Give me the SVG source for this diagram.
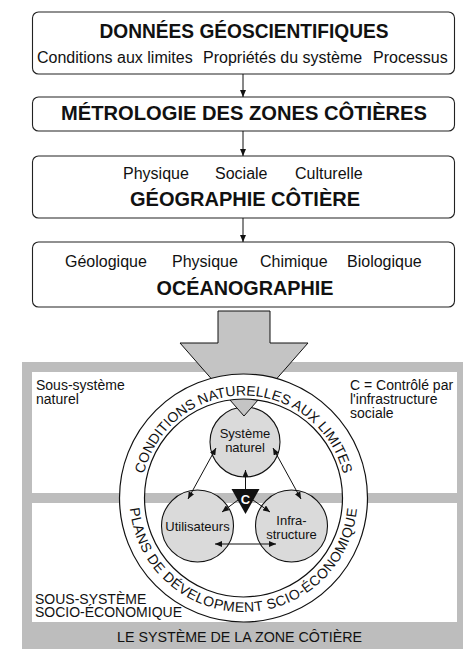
<svg xmlns="http://www.w3.org/2000/svg" width="465" height="652" viewBox="0 0 465 652">
  <defs>
    <style>
      text { font-family: "Liberation Sans", Arial, Helvetica, sans-serif; fill: #111; }
      .box { fill: #fff; stroke: #222; stroke-width: 1.1; }
      .title { font-size: 20px; font-weight: bold; text-anchor: middle; }
      .sub { font-size: 16px; }
      .lbl { font-size: 14px; }
      .node { font-size: 13px; text-anchor: middle; }
      .ringtxt { font-size: 14px; }
      .link { stroke: #111; stroke-width: 1; fill: none; }
      .bub { fill: #dadada; stroke: #111; stroke-width: 1.1; }
      .shade { fill: #bdbdbd; }
      .pane { fill: #fff; }
    </style>
    <marker id="ah" viewBox="0 0 7 6" refX="7" refY="3" markerWidth="7" markerHeight="6" markerUnits="userSpaceOnUse" orient="auto-start-reverse">
      <path d="M0,0 L7,3 L0,6 Z" fill="#111"/>
    </marker>
    <path id="arcTop" d="M141,498 A102.5,102.5 0 0 1 346,498"/>
    <path id="arcBot" d="M129.5,498 A114,114 0 0 0 357.5,498"/>
  </defs>

  <!-- stacked source boxes -->
  <g id="donnees">
    <rect class="box" x="32.5" y="12" width="422" height="62" rx="6"/>
    <text class="title" x="244" y="38" textLength="289" lengthAdjust="spacingAndGlyphs">DONNÉES GÉOSCIENTIFIQUES</text>
    <text class="sub" x="37" y="63">Conditions aux limites</text>
    <text class="sub" x="203" y="63">Propriétés du système</text>
    <text class="sub" x="373" y="63">Processus</text>
  </g>
  <g id="metrologie">
    <rect class="box" x="32.5" y="97" width="422" height="34" rx="6"/>
    <text class="title" x="244" y="120" textLength="366" lengthAdjust="spacingAndGlyphs">MÉTROLOGIE DES ZONES CÔTIÈRES</text>
  </g>
  <g id="geographie">
    <rect class="box" x="32.5" y="156" width="422" height="62" rx="6"/>
    <text class="sub" x="123" y="179">Physique</text>
    <text class="sub" x="215" y="179">Sociale</text>
    <text class="sub" x="295" y="179">Culturelle</text>
    <text class="title" x="245" y="206" textLength="230" lengthAdjust="spacingAndGlyphs">GÉOGRAPHIE CÔTIÈRE</text>
  </g>
  <g id="oceanographie">
    <rect class="box" x="32.5" y="242" width="422" height="65" rx="6"/>
    <text class="sub" x="65" y="267">Géologique</text>
    <text class="sub" x="172" y="267">Physique</text>
    <text class="sub" x="260" y="267">Chimique</text>
    <text class="sub" x="347" y="267">Biologique</text>
    <text class="title" x="245" y="295" textLength="177" lengthAdjust="spacingAndGlyphs">OCÉANOGRAPHIE</text>
  </g>

  <!-- coastal zone system frame -->
  <g id="cadre">
    <rect class="shade" x="22" y="362" width="441" height="287"/>
    <rect class="pane" x="32" y="372" width="425" height="121"/>
    <rect class="pane" x="32" y="503" width="425" height="119"/>
    <text class="lbl" x="36" y="390">Sous-système</text>
    <text class="lbl" x="36" y="404">naturel</text>
    <text class="lbl" x="350" y="390">C = Contrôlé par</text>
    <text class="lbl" x="350" y="404">l'infrastructure</text>
    <text class="lbl" x="350" y="418">sociale</text>
    <text class="lbl" x="35" y="604">SOUS-SYSTÈME</text>
    <text class="lbl" x="35" y="617">SOCIO-ÉCONOMIQUE</text>
    <text class="lbl" x="117" y="642" textLength="245" lengthAdjust="spacingAndGlyphs">LE SYSTÈME DE LA ZONE CÔTIÈRE</text>
  </g>

  <g id="systeme-naturel">
    <circle class="bub" cx="245" cy="442" r="35"/>
    <text class="node" x="245" y="438">Système</text>
    <text class="node" x="245" y="452">naturel</text>
  </g>

  <!-- wide input arrow into the system -->
  <g id="fleche-entree">
    <polygon points="218,311 270,311 270,343 308,343 244,416 180,343 218,343" fill="#c4c4c4" stroke="#111" stroke-width="1"/>
  </g>

  <!-- boundary ring with its two labels -->
  <g id="anneau">
    <path d="M119.5,498 a124,124 0 1,0 248,0 a124,124 0 1,0 -248,0 Z M144.5,498 a99,99 0 1,0 198,0 a99,99 0 1,0 -198,0 Z" fill="#fff" fill-rule="evenodd" stroke="#111" stroke-width="1.2"/>
    <text class="ringtxt"><textPath href="#arcTop" startOffset="50%" text-anchor="middle">CONDITIONS NATURELLES AUX LIMITES</textPath></text>
    <text class="ringtxt" letter-spacing="0.5"><textPath href="#arcBot" startOffset="50%" text-anchor="middle">PLANS DE DÉVELOPMENT SCIO-ÉCONOMIQUE</textPath></text>
  </g>

  <g id="utilisateurs">
    <circle class="bub" cx="197.5" cy="526" r="36"/>
    <text class="node" x="197.5" y="531">Utilisateurs</text>
  </g>
  <g id="infrastructure">
    <circle class="bub" cx="291.5" cy="526" r="36"/>
    <text class="node" x="291.5" y="525">Infra-</text>
    <text class="node" x="291.5" y="539">structure</text>
  </g>
  <g id="controle">
    <polygon points="231.5,489 259.5,489 245.5,514" fill="#111"/>
    <text x="245.5" y="504" font-size="13" font-weight="bold" text-anchor="middle" style="fill:#fff">C</text>
  </g>

  <!-- connectors -->
  <g id="liens">
    <line class="link" x1="243" y1="74" x2="243" y2="97" marker-end="url(#ah)"/>
    <line class="link" x1="243" y1="131" x2="243" y2="156" marker-end="url(#ah)"/>
    <line class="link" x1="243" y1="218" x2="243" y2="242" marker-end="url(#ah)"/>
    <line class="link" x1="216" y1="448" x2="188" y2="499" marker-start="url(#ah)" marker-end="url(#ah)"/>
    <line class="link" x1="273" y1="448" x2="301" y2="499" marker-start="url(#ah)" marker-end="url(#ah)"/>
    <line class="link" x1="215" y1="544" x2="276" y2="544" marker-start="url(#ah)" marker-end="url(#ah)"/>
    <line class="link" x1="245.5" y1="489" x2="245.5" y2="470" marker-end="url(#ah)"/>
    <line class="link" x1="238" y1="500" x2="222" y2="512" marker-end="url(#ah)"/>
    <line class="link" x1="253" y1="500" x2="270" y2="512" marker-end="url(#ah)"/>
  </g>
</svg>
